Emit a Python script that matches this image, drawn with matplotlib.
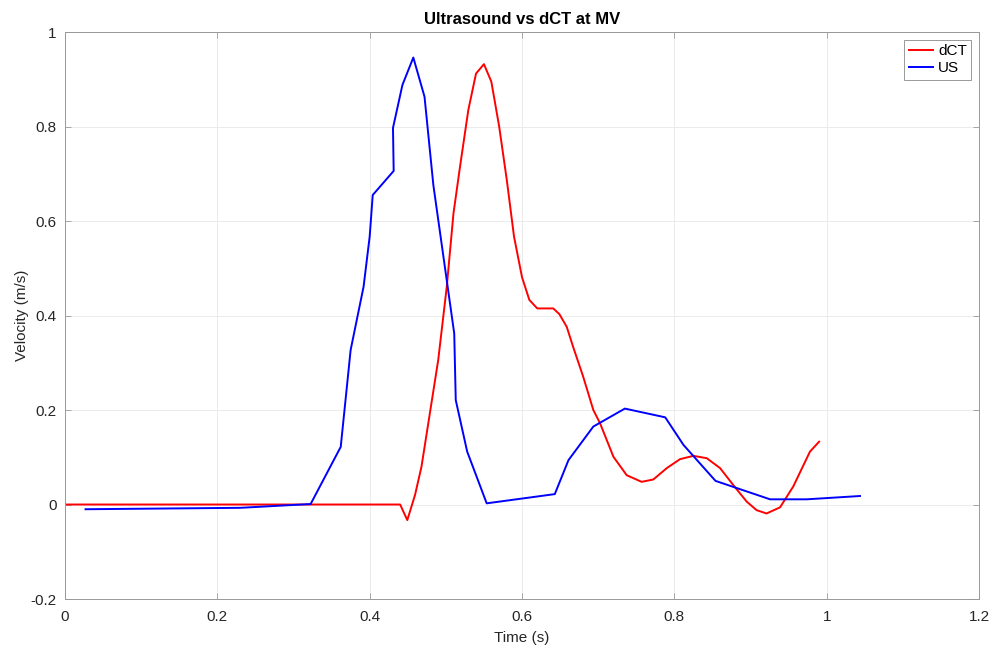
import matplotlib
matplotlib.use('Agg')
import matplotlib.pyplot as plt
from matplotlib.ticker import FormatStrFormatter

plt.rcParams['font.family'] = ['Liberation Sans', 'DejaVu Sans']

# dCT velocity at MV
dct_t = [0.0, 0.44, 0.4494, 0.4595, 0.468, 0.479, 0.490, 0.5012, 0.510, 0.5186,
         0.5295, 0.5396, 0.550, 0.5597, 0.570, 0.580, 0.5895, 0.600, 0.6096,
         0.620, 0.641, 0.649, 0.6587, 0.667, 0.680, 0.6936, 0.7024, 0.720,
         0.7374, 0.757, 0.7724, 0.790, 0.8074, 0.825, 0.8425, 0.860, 0.8774,
         0.895, 0.908, 0.921, 0.9387, 0.956, 0.978, 0.990]
dct_v = [0.0, 0.0, -0.033, 0.020, 0.080, 0.193, 0.306, 0.461, 0.616, 0.715,
         0.835, 0.912, 0.932, 0.895, 0.800, 0.687, 0.567, 0.481, 0.433,
         0.415, 0.415, 0.403, 0.376, 0.334, 0.272, 0.200, 0.172, 0.101,
         0.062, 0.048, 0.053, 0.077, 0.096, 0.103, 0.098, 0.077, 0.041,
         0.006, -0.012, -0.019, -0.006, 0.038, 0.112, 0.133]

# ultrasound velocity
us_t = [0.027, 0.23, 0.3225, 0.362, 0.375, 0.392, 0.400, 0.404, 0.4315, 0.4306,
        0.443, 0.4573, 0.472, 0.4836, 0.511, 0.513, 0.528, 0.5536, 0.643,
        0.661, 0.6936, 0.735, 0.788, 0.812, 0.854, 0.9256, 0.9737, 1.0437]
us_v = [-0.01, -0.007, 0.001, 0.122, 0.327, 0.461, 0.567, 0.655, 0.706, 0.797,
        0.888, 0.946, 0.863, 0.676, 0.362, 0.221, 0.112, 0.0025, 0.022,
        0.094, 0.165, 0.203, 0.1845, 0.126, 0.050, 0.011, 0.011, 0.018]

fig = plt.figure(figsize=(9.95, 6.48), dpi=100)
ax = fig.add_axes([0.0653, 0.0756, 0.9187, 0.875])

ax.plot(dct_t, dct_v, color='#ff0000', lw=1.4, label='dCT')
ax.plot(us_t, us_v, color='#0000ff', lw=1.4, label='US')

ax.set_xlim(0, 1.2)
ax.set_ylim(-0.2, 1)
ax.set_xticks([0, 0.2, 0.4, 0.6, 0.8, 1, 1.2])
ax.set_yticks([-0.2, 0, 0.2, 0.4, 0.6, 0.8, 1])
ax.xaxis.set_major_formatter(FormatStrFormatter('%g'))
ax.yaxis.set_major_formatter(FormatStrFormatter('%g'))
ax.tick_params(direction='in', length=4, width=0.6, color='#999999',
               labelsize=11, labelcolor='#262626', top=True, right=True)
ax.tick_params(axis='x', pad=8)
ax.tick_params(axis='y', pad=6)
ax.grid(True, color='#ebebeb', lw=0.7)
for s in ax.spines.values():
    s.set_color('#999999')
    s.set_linewidth(0.7)

ax.set_xlabel('Time (s)', fontsize=11, color='#262626', labelpad=5)
ax.set_ylabel('Velocity (m/s)', fontsize=11, color='#262626', labelpad=1)
ax.set_title('Ultrasound vs dCT at MV', fontsize=12, fontweight='bold', pad=6)

leg = ax.legend(loc='upper right', fontsize=11, handlelength=1.6,
                handletextpad=0.3, borderpad=0.3, labelspacing=0.2,
                fancybox=False, framealpha=1, borderaxespad=0.5)
leg.get_frame().set_edgecolor('#999999')
leg.get_frame().set_linewidth(0.7)

fig.savefig('out.png', dpi=100)
